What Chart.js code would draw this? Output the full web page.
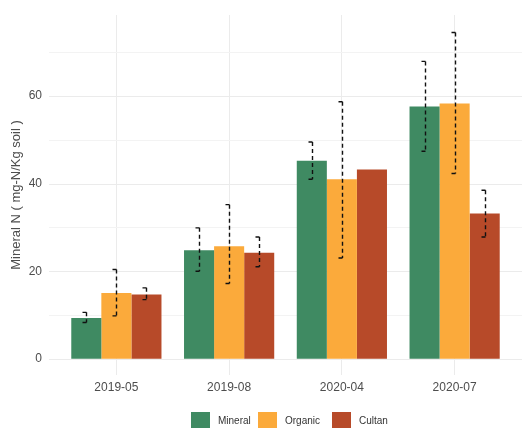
<!DOCTYPE html>
<html>
<head>
<meta charset="utf-8">
<script src="https://cdn.jsdelivr.net/npm/chart.js@4/dist/chart.umd.min.js"></script>
<style>
  html, body { margin: 0; padding: 0; background: #ffffff; }
  #wrap { width: 522px; height: 428px; }
</style>
</head>
<body>
<div id="wrap"><canvas id="c" width="522" height="428"></canvas></div>
<script>
// Sampling dates
const categories = ['2019-05', '2019-08', '2020-04', '2020-07'];

// Mean mineral N (mg-N/kg soil) per fertiliser treatment
const mineral = [9.3, 24.8, 45.2, 57.6];
const organic = [15.0, 25.7, 41.0, 58.3];
const cultan  = [14.7, 24.2, 43.2, 33.2];

// Error bar limits (lower / upper)
const mineralLow  = [8.3, 20.0, 41.0, 47.4];
const mineralHigh = [10.6, 29.9, 49.5, 67.9];
const organicLow  = [9.8, 17.2, 23.0, 42.3];
const organicHigh = [20.4, 35.2, 58.7, 74.5];
const cultanLow   = [13.5, 21.0, null, 27.8];
const cultanHigh  = [16.2, 27.8, null, 38.5];

// Axis ticks
const yTickValues = [0, 20, 40, 60];
const yGridValues = [0, 10, 20, 30, 40, 50, 60, 70];

const seriesNames = ['Mineral', 'Organic', 'Cultan'];
const seriesColors = ['#3f8a62', '#fbaa3b', '#b74a29'];
const lows = [mineralLow, organicLow, cultanLow];
const highs = [mineralHigh, organicHigh, cultanHigh];

const FONT = '"Liberation Sans", Arial, Helvetica, sans-serif';

// Horizontal panel grid (major every 20, minor every 10) across the full panel width
const panelGrid = {
  id: 'panelGrid',
  beforeDatasetsDraw(chart) {
    const { ctx } = chart;
    const y = chart.scales.y;
    ctx.save();
    yGridValues.forEach(v => {
      const py = Math.round(y.getPixelForValue(v)) + 0.5;
      ctx.strokeStyle = (v % 20 === 0) ? '#ebebeb' : '#f3f3f3';
      ctx.lineWidth = 1;
      ctx.beginPath();
      ctx.moveTo(49, py);
      ctx.lineTo(522, py);
      ctx.stroke();
    });
    ctx.restore();
  }
};

// Dashed error bars with short left-hand caps
const errorBars = {
  id: 'errorBars',
  afterDatasetsDraw(chart) {
    const { ctx } = chart;
    const y = chart.scales.y;
    ctx.save();
    ctx.strokeStyle = '#111111';
    ctx.lineWidth = 1.4;
    chart.data.datasets.forEach((ds, d) => {
      const meta = chart.getDatasetMeta(d);
      meta.data.forEach((bar, i) => {
        const lo = lows[d][i], hi = highs[d][i];
        if (lo == null || hi == null) return;
        const x = Math.round(bar.x) + 0.5;
        const yHi = y.getPixelForValue(hi);
        const yLo = y.getPixelForValue(lo);
        ctx.setLineDash([4, 3]);
        ctx.beginPath();
        ctx.moveTo(x, yHi);
        ctx.lineTo(x, yLo);
        ctx.stroke();
        ctx.setLineDash([]);
        ctx.beginPath();
        ctx.moveTo(x - 4, yHi);
        ctx.lineTo(x, yHi);
        ctx.moveTo(x - 4, yLo);
        ctx.lineTo(x, yLo);
        ctx.stroke();
      });
    });
    ctx.restore();
  }
};

// Legend row beneath the x axis
const bottomLegend = {
  id: 'bottomLegend',
  afterDraw(chart) {
    const { ctx } = chart;
    const starts = [191, 258, 332];
    ctx.save();
    ctx.font = '10px ' + FONT;
    ctx.textBaseline = 'middle';
    ctx.textAlign = 'left';
    chart.data.datasets.forEach((ds, d) => {
      const sx = starts[d];
      ctx.fillStyle = ds.backgroundColor;
      ctx.fillRect(sx, 412, 19, 17);
      ctx.fillStyle = '#333333';
      ctx.fillText(ds.label, sx + 27, 421.5);
    });
    ctx.restore();
  }
};

new Chart(document.getElementById('c'), {
  type: 'bar',
  data: {
    labels: categories,
    datasets: [
      { label: seriesNames[0], data: mineral, backgroundColor: seriesColors[0] },
      { label: seriesNames[1], data: organic, backgroundColor: seriesColors[1] },
      { label: seriesNames[2], data: cultan,  backgroundColor: seriesColors[2] }
    ]
  },
  options: {
    responsive: false,
    animation: false,
    devicePixelRatio: 1,
    layout: { padding: { left: 0, right: 11, top: 15, bottom: 29 } },
    datasets: { bar: { categoryPercentage: 0.8, barPercentage: 1.0, borderWidth: 0 } },
    plugins: {
      legend: { display: false },
      tooltip: { enabled: false }
    },
    scales: {
      x: {
        offset: true,
        grid: { offset: false, color: '#ebebeb', drawTicks: false },
        border: { display: false },
        ticks: { padding: 5, color: '#4d4d4d', font: { size: 12, family: FONT } },
        afterFit: s => { s.height = 24; }
      },
      y: {
        min: -3.7,
        max: 78.5,
        afterBuildTicks: s => { s.ticks = yTickValues.map(v => ({ value: v })); },
        afterFit: s => { s.width = 60; s.paddingTop = 0; s.paddingBottom = 0; },
        grid: { display: false, drawTicks: false },
        border: { display: false },
        ticks: { padding: 18, color: '#4d4d4d', font: { size: 12, family: FONT } },
        title: {
          display: true,
          text: 'Mineral N ( mg-N/Kg soil )',
          color: '#4d4d4d',
          font: { size: 13, family: FONT },
          padding: { top: 9, bottom: 0 }
        }
      }
    }
  },
  plugins: [panelGrid, errorBars, bottomLegend]
});
</script>
</body>
</html>
